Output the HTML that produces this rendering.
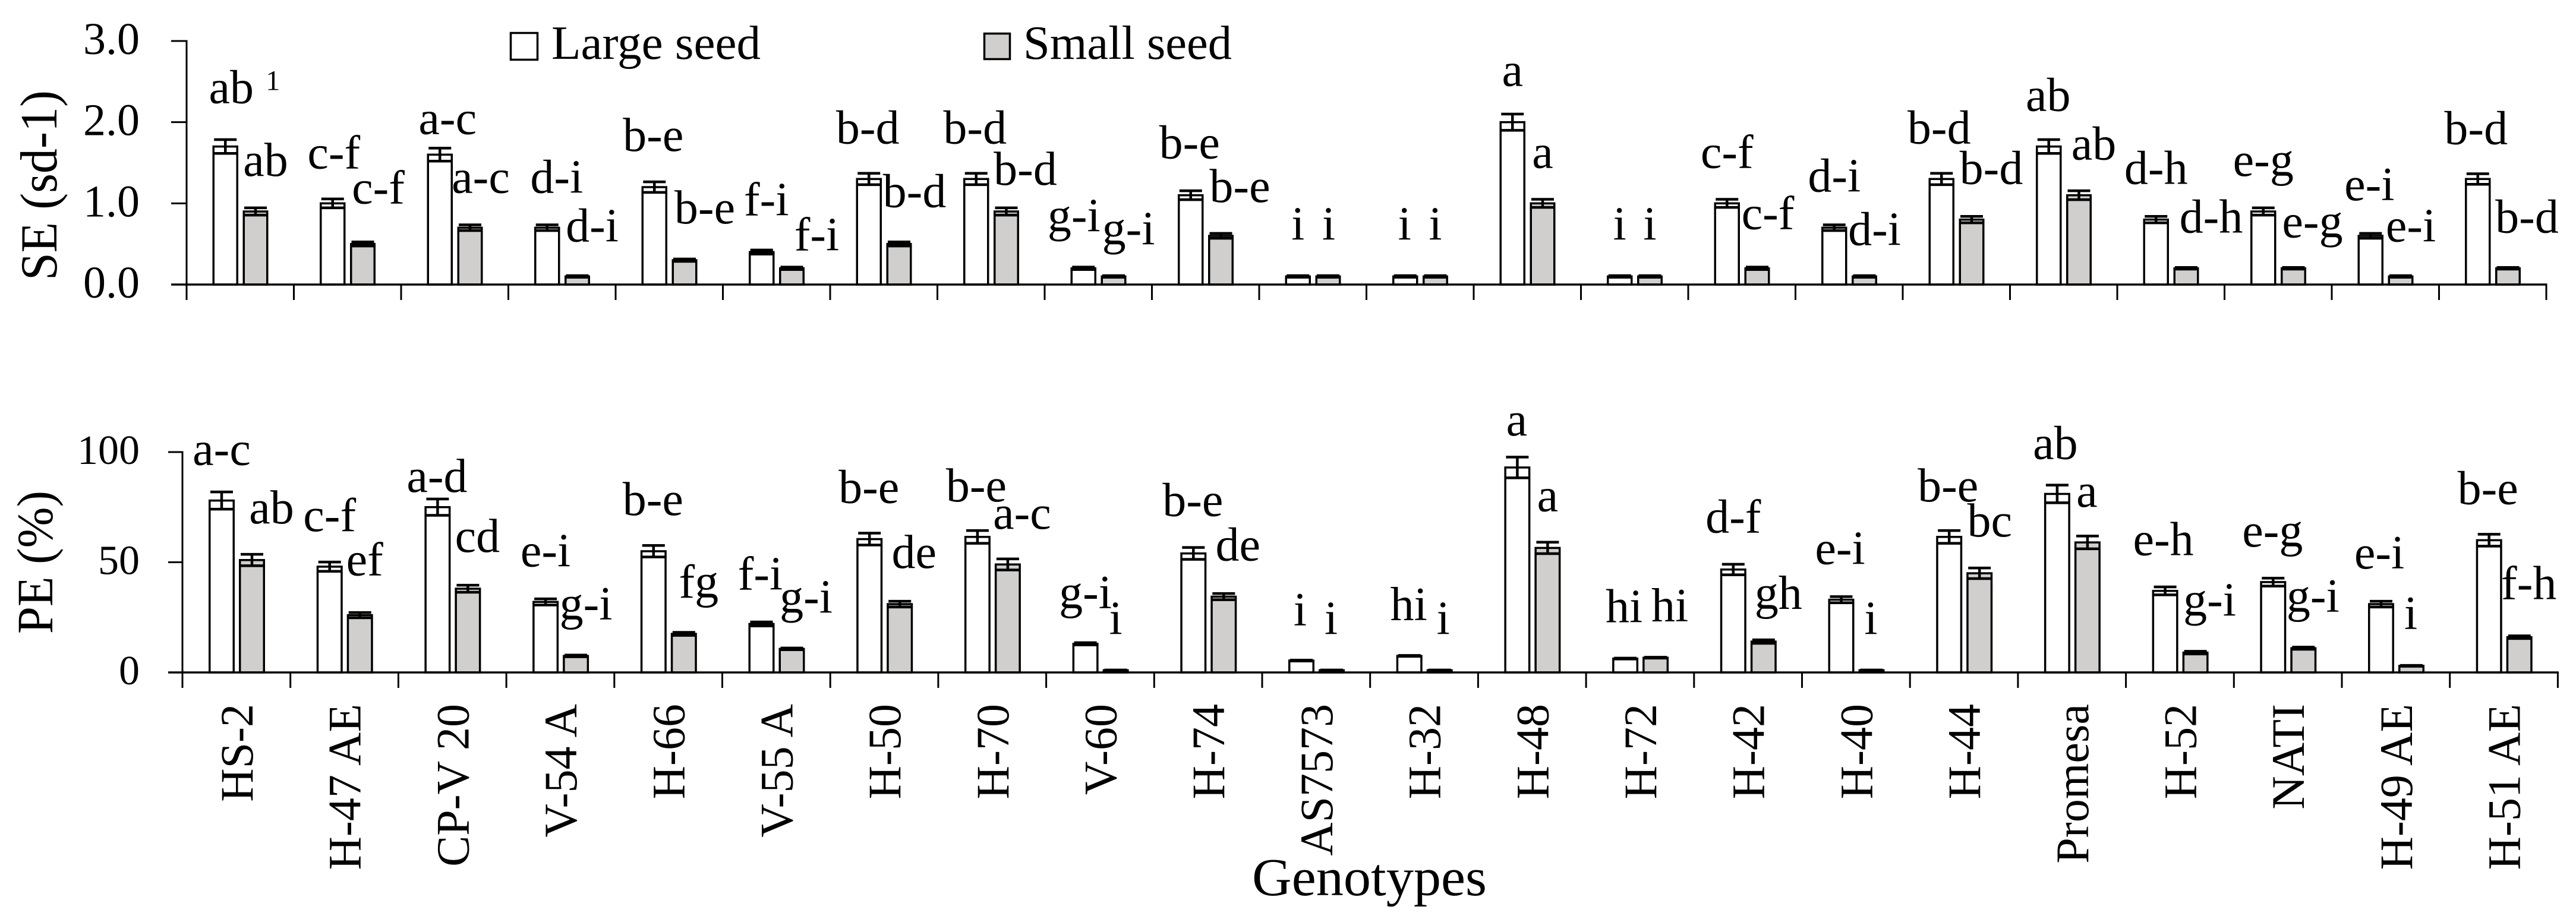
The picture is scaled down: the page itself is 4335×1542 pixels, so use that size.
<!DOCTYPE html>
<html lang="en">
<head>
<meta charset="utf-8">
<title>Seed size and germination by genotype</title>
<style>
html,body{margin:0;padding:0;background:#fff;}
svg{display:block;}
text{font-family:"Liberation Serif",serif;fill:#000;}
</style>
</head>
<body>
<svg id="chart" xmlns="http://www.w3.org/2000/svg" width="4335" height="1542" viewBox="0 0 4335 1542">
  <rect x="0" y="0" width="4335" height="1542" fill="#fff"/>
  <g id="se-panel"></g>
  <g id="pe-panel"></g>

  <text transform="translate(95 472) rotate(-90)" font-size="88" textLength="320" lengthAdjust="spacingAndGlyphs">SE (sd-1)</text>
  <text transform="translate(88 1067) rotate(-90)" font-size="86" textLength="241" lengthAdjust="spacingAndGlyphs">PE (%)</text>
  <text x="2107" y="1507" font-size="90" textLength="395" lengthAdjust="spacingAndGlyphs">Genotypes</text>

  <g>
    <g>
      <rect x="859.5" y="55.5" width="45" height="45" fill="#fff" stroke="#000" stroke-width="3.5"/>
      <text x="928" y="99" font-size="80" textLength="352" lengthAdjust="spacingAndGlyphs">Large seed</text>
    </g>
    <g>
      <rect x="1656.5" y="56.5" width="43" height="43" fill="#d0cfcd" stroke="#000" stroke-width="3.5"/>
      <text x="1722" y="99" font-size="80" textLength="351" lengthAdjust="spacingAndGlyphs">Small seed</text>
    </g>
  </g>
</svg>

<script>
const categories = ['HS-2','H-47 AE','CP-V 20','V-54 A','H-66','V-55 A','H-50','H-70','V-60','H-74','AS7573','H-32','H-48','H-72','H-42','H-40','H-44','Promesa','H-52','NATI','H-49 AE','H-51 AE'];

const seTicks = [0,1,2,3];
const seTickLabels = ['0.0','1.0','2.0','3.0'];
const peTicks = [0,50,100];
const peTickLabels = ['0','50','100'];

const seLarge = [1.7,1.0,1.6,0.7,1.2,0.4,1.3,1.3,0.2,1.1,0.1,0.1,2.0,0.1,1.0,0.7,1.3,1.7,0.8,0.9,0.6,1.3];
const seSmall = [0.9,0.5,0.7,0.1,0.3,0.2,0.5,0.9,0.1,0.6,0.1,0.1,1.0,0.1,0.2,0.1,0.8,1.1,0.2,0.2,0.1,0.2];
const seLargeErr = [0.085,0.055,0.08,0.035,0.065,0.025,0.07,0.07,0.015,0.055,0.01,0.01,0.1,0.01,0.05,0.035,0.07,0.085,0.04,0.045,0.03,0.065];
const seSmallErr = [0.045,0.025,0.035,0.01,0.015,0.015,0.025,0.045,0.01,0.03,0.01,0.01,0.05,0.01,0.015,0.01,0.04,0.055,0.01,0.01,0.01,0.01];

const peLarge = [78,48,75,32,55,22,60.5,61.5,13,54,5.4,7.5,93,6.3,46.7,33,61.5,81,37,41,31,60];
const peSmall = [51,26,38,7.5,17.5,10.7,31,49,1,34.4,1,1,56.5,6.7,14,1,45,59,9,11,3,16];
const peLargeErr = [3.9,2.1,3.7,1.4,2.6,0.9,2.7,2.9,0.5,2.7,0.2,0.2,4.7,0.2,2.4,1.4,2.9,4,1.8,1.8,1.3,2.7];
const peSmallErr = [2.6,1.2,1.6,0.4,0.7,0.4,1.3,2.5,0.1,1.4,0.1,0.1,2.6,0.2,0.8,0.1,2.4,2.9,0.6,0.5,0.2,0.6];

const seLargeLetters = ['ab','c-f','a-c','d-i','b-e','f-i','b-d','b-d','g-i','b-e','i','i','a','i','c-f','d-i','b-d','ab','d-h','e-g','e-i','b-d'];
const seSmallLetters = ['ab','c-f','a-c','d-i','b-e','f-i','b-d','b-d','g-i','b-e','i','i','a','i','c-f','d-i','b-d','ab','d-h','e-g','e-i','b-d'];
const peLargeLetters = ['a-c','c-f','a-d','e-i','b-e','f-i','b-e','b-e','g-i','b-e','i','hi','a','hi','d-f','e-i','b-e','ab','e-h','e-g','e-i','b-e'];
const peSmallLetters = ['ab','ef','cd','g-i','fg','g-i','de','a-c','i','de','i','i','a','hi','gh','i','bc','a','g-i','g-i','i','f-h'];

/* Hand placement of the significance letters relative to the top of their bar (layout only). */
const seLargeNudge = [[10,-73],[2,-59],[13,-35],[16,-59],[-2,-61],[8,-62],[-2,-60],[-2,-60],[-16,-62],[-2,-62],[0,-62],[-1,-62],[0,-61],[0,-62],[0,-60],[0,-61],[-4,-60],[-1,-60],[0,-60],[0,-60],[-2,-60],[-3,-59]];
const seSmallNudge = [[17,-60],[26,-68],[18,-59],[25,-59],[34,-62],[42,-30],[26,-62],[32,-45],[25,-54],[32,-57],[1,-62],[0,-62],[0,-60],[0,-62],[18,-66],[17,-53],[33,-60],[25,-60],[42,-60],[32,-52],[17,-59],[32,-60]];
const peLargeNudge = [[0,-60],[0,-60],[-1,-26],[0,-60],[-1,-61],[-2,-58],[-1,-61],[-2,-60],[0,-60],[-1,-63],[-2,-59],[-1,-60],[-1,-54],[-2,-61],[0,-62],[-2,-60],[-2,-60],[-3,-59],[-3,-60],[-1,-60],[-3,-60],[-2,-61]];
const peSmallNudge = [[33,-62],[8,-67],[16,-62],[17,-61],[25,-61],[24,-61],[24,-61],[24,-60],[0,-61],[24,-61],[-1,-61],[6,-61],[0,-62],[24,-61],[25,-55],[-1,-61],[17,-62],[-1,-60],[24,-62],[16,-61],[-1,-62],[16,-64]];

const SVG_NS = 'http://www.w3.org/2000/svg';
const SMALL_FILL = '#d0cfcd';

const sePanel = {
  key: 'se', group: document.getElementById('se-panel'),
  axisX: 314, step: 180.5, zeroY: 479, topY: 69, maxValue: 3, tickLeft: 288, tickBottom: 505,
  ticks: seTicks, tickLabels: seTickLabels, tickFont: 76, labelRight: 235, labelDrop: 22,
  largeX: 43.5, largeW: 43.5, smallX: 94.5, smallW: 43,
  large: seLarge, small: seSmall, largeErr: seLargeErr, smallErr: seSmallErr,
  largeLetters: seLargeLetters, smallLetters: seSmallLetters,
  largeNudge: seLargeNudge, smallNudge: seSmallNudge
};

const pePanel = {
  key: 'pe', group: document.getElementById('pe-panel'),
  axisX: 307, step: 181.7, zeroY: 1132, topY: 761, maxValue: 100, tickLeft: 283, tickBottom: 1158,
  ticks: peTicks, tickLabels: peTickLabels, tickFont: 70, labelRight: 235, labelDrop: 20,
  largeX: 44, largeW: 44, smallX: 95, smallW: 44,
  large: peLarge, small: peSmall, largeErr: peLargeErr, smallErr: peSmallErr,
  largeLetters: peLargeLetters, smallLetters: peSmallLetters,
  largeNudge: peLargeNudge, smallNudge: peSmallNudge
};

function yScale(p, v) {
  return p.zeroY - (p.zeroY - p.topY) * v / p.maxValue;
}

function xBand(p, i) {
  return p.axisX + p.step * i;
}

function svgEl(tag, attrs, parent) {
  const el = document.createElementNS(SVG_NS, tag);
  for (const k in attrs) el.setAttribute(k, attrs[k]);
  parent.appendChild(el);
  return el;
}

function slug(s) {
  return s.toLowerCase().replace(/[^a-z0-9]+/g, '-');
}

function drawSeries(p, seriesName, values, errs, letters, nudges, barX, barW, fill) {
  const sw = 3.5;
  values.forEach(function (v, i) {
    const cat = slug(categories[i]);
    const x = xBand(p, i) + barX;
    const cx = x + barW / 2;
    const top = yScale(p, v);

    const bar = svgEl('rect', {
      x: x + sw / 2, y: top, width: barW - sw, height: Math.max(p.zeroY - top, 0),
      fill: fill, stroke: '#000', 'stroke-width': sw
    }, p.group);
    
    

    const hi = yScale(p, v + errs[i]);
    const lo = yScale(p, v - errs[i]);
    const err = svgEl('path', {
      d: 'M' + (cx - 19) + ' ' + hi + 'H' + (cx + 19) +
         'M' + cx + ' ' + hi + 'V' + lo +
         'M' + (cx - 19) + ' ' + lo + 'H' + (cx + 19),
      fill: 'none', stroke: '#000', 'stroke-width': 4.5
    }, p.group);
    
    

    const lx = cx + nudges[i][0];
    const ly = top + nudges[i][1];
    const label = svgEl('text', { x: lx, y: ly, 'font-size': 80, 'text-anchor': 'middle' }, p.group);
    label.textContent = letters[i];
    
    

    if (p.key === 'se' && seriesName === 'large' && i === 0) {
      const note = svgEl('text', { x: lx + 70, y: ly - 22, 'font-size': 48, 'text-anchor': 'middle' }, p.group);
      note.textContent = '1';
      
      
    }
  });
}

function drawAxes(p) {
  const right = xBand(p, categories.length);

  const yAxis = svgEl('line', {
    x1: p.axisX, x2: p.axisX, y1: p.topY - 1.5, y2: p.tickBottom, stroke: '#000', 'stroke-width': 3
  }, p.group);
  
  

  const xAxis = svgEl('line', {
    x1: p.tickLeft, x2: right + 1.5, y1: p.zeroY, y2: p.zeroY, stroke: '#000', 'stroke-width': 3.5
  }, p.group);
  
  

  p.ticks.forEach(function (t, i) {
    const y = yScale(p, t);
    const tick = svgEl('line', {
      x1: p.tickLeft, x2: p.axisX, y1: y, y2: y, stroke: '#000', 'stroke-width': 3
    }, p.group);
    
    

    const label = svgEl('text', {
      x: p.labelRight, y: y + p.labelDrop, 'font-size': p.tickFont, 'text-anchor': 'end'
    }, p.group);
    label.textContent = p.tickLabels[i];
    
    
  });

  for (let i = 1; i <= categories.length; i++) {
    const x = xBand(p, i);
    const tick = svgEl('line', {
      x1: x, x2: x, y1: p.zeroY, y2: p.tickBottom, stroke: '#000', 'stroke-width': 3
    }, p.group);
    
    
  }
}

function drawPanel(p) {
  drawSeries(p, 'large', p.large, p.largeErr, p.largeLetters, p.largeNudge, p.largeX, p.largeW, '#fff');
  drawSeries(p, 'small', p.small, p.smallErr, p.smallLetters, p.smallNudge, p.smallX, p.smallW, SMALL_FILL);
  drawAxes(p);
}

function drawCategoryLabels(p) {
  categories.forEach(function (name, i) {
    const x = xBand(p, i) + p.step / 2 + 27;
    const label = svgEl('text', {
      transform: 'translate(' + x + ' 1185) rotate(-90)',
      'font-size': 78, 'text-anchor': 'end'
    }, p.group);
    label.textContent = name;
    
    
  });
}

drawPanel(sePanel);
drawPanel(pePanel);
drawCategoryLabels(pePanel);
</script>
</body>
</html>
